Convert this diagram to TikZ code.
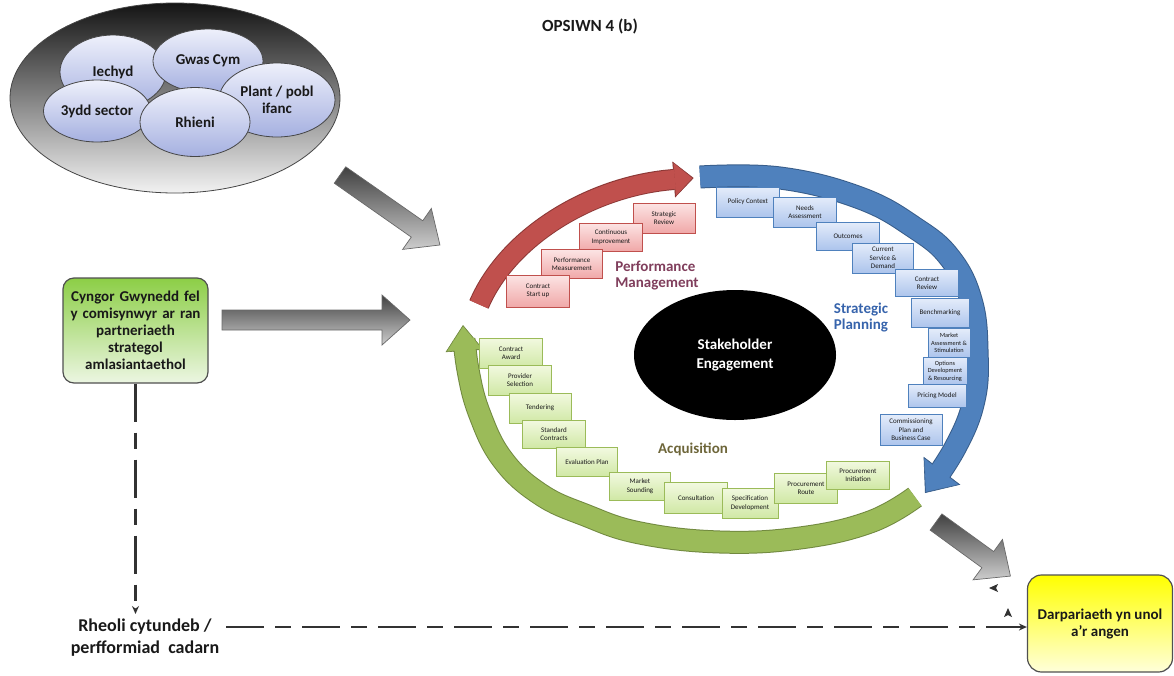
\documentclass[tikz,border=0pt]{standalone}
\usepackage{fontspec}
\setmainfont{Carlito}
\usetikzlibrary{arrows.meta,shapes.geometric}
\definecolor{txt}{RGB}{25,25,25}
\definecolor{redd}{RGB}{140,56,54}
\definecolor{redf}{RGB}{192,80,77}
\definecolor{blued}{RGB}{56,93,138}
\definecolor{bluef}{RGB}{79,129,189}
\definecolor{greend}{RGB}{113,137,63}
\definecolor{greenf}{RGB}{155,187,89}
\definecolor{rboxt}{RGB}{252,228,228}
\definecolor{rboxb}{RGB}{240,168,168}
\definecolor{bboxt}{RGB}{228,236,250}
\definecolor{bboxb}{RGB}{172,196,236}
\definecolor{gboxt}{RGB}{242,249,224}
\definecolor{gboxb}{RGB}{208,232,165}
\definecolor{ellt}{RGB}{238,240,251}
\definecolor{ellb}{RGB}{165,176,224}
\definecolor{ellline}{RGB}{70,70,70}
\definecolor{bigt}{RGB}{20,20,20}
\definecolor{bigm}{RGB}{95,95,95}
\definecolor{bigb}{RGB}{242,242,242}
\definecolor{garrt}{RGB}{65,65,65}
\definecolor{garrb}{RGB}{205,205,205}
\definecolor{garrl}{RGB}{105,105,105}
\definecolor{cygt}{RGB}{140,206,70}
\definecolor{cygb}{RGB}{236,246,226}
\definecolor{yelt}{RGB}{255,255,0}
\definecolor{yelb}{RGB}{255,255,218}
\definecolor{boxline}{RGB}{80,80,80}
\definecolor{pmcol}{RGB}{128,62,92}
\definecolor{spcol}{RGB}{55,100,172}
\definecolor{accol}{RGB}{110,102,58}
\definecolor{dashcol}{RGB}{50,50,50}
\newcommand{\garrow}[4]{%
  \begin{scope}[shift={(#1,#2)}, rotate=#3]
    \shade[top color=garrt, bottom color=garrb, draw=garrl, line width=0.7pt]
      (0,-10) -- ({#4-28},-10) -- ({#4-28},-25) -- (#4,0) -- ({#4-28},25) -- ({#4-28},10) -- (0,10) -- cycle;
  \end{scope}}
\begin{document}
\begin{tikzpicture}[x=1pt,y=-1pt,
  every node/.style={inner sep=0pt},
  smallell/.style={ellipse, draw=ellline, line width=0.8pt, top color=ellt, bottom color=ellb,
     font=\bfseries\fontsize{15}{17}\selectfont, text=txt, align=center},
  sbox/.style={draw=#1, line width=0.7pt, align=center, inner sep=1pt,
     font=\fontsize{7}{8.4}\selectfont, text=txt},
  rbox/.style={sbox=redf, top color=rboxt, bottom color=rboxb},
  bbox/.style={sbox=bluef, top color=bboxt, bottom color=bboxb},
  gbox/.style={sbox=greenf, top color=gboxt, bottom color=gboxb},
  biglbl/.style={font=\bfseries\fontsize{15}{16}\selectfont, align=left},
  dashline/.style={draw=dashcol, line width=2.2pt, dash pattern=on 38pt off 11pt on 16pt off 11pt},
  smalltip/.style={-{Stealth[length=8pt,width=7pt]}}
]
\useasboundingbox (0,0) rectangle (1174,675);
\fill[white] (0,0) rectangle (1174,675);

% title
\node[font=\bfseries\fontsize{17}{19}\selectfont, text=txt] (title) at (590,26) {OPSIWN 4 (b)};

% stakeholder group ellipse
\node[ellipse, minimum width=330pt, minimum height=190pt, draw=ellline, line width=0.8pt,
      top color=bigt, middle color=bigm, bottom color=bigb] (group) at (175,98) {};
\node[smallell, minimum width=106pt, minimum height=74pt] (iechyd) at (113,72) {\raisebox{2pt}{Iechyd}};
\node[smallell, minimum width=110pt, minimum height=64pt] (gwas) at (208,61) {Gwas Cym};
\node[smallell, minimum width=116pt, minimum height=74pt] (plant) at (277,100) {Plant / pobl\\ifanc};
\node[smallell, minimum width=107pt, minimum height=62pt] (sector) at (97,111) {3ydd sector};
\node[smallell, minimum width=110pt, minimum height=69pt] (rhieni) at (195,122) {Rhieni};

% grey block arrows
\garrow{340}{175}{-35}{122}
\garrow{222}{320}{0}{188}
\garrow{936}{522}{-36}{92}

% circular arrows
\def\redpath{(479,304.4) arc[start angle=197, end angle=264, x radius=252, y radius=180]}
\def\bluepath{plot[smooth, tension=0.7] coordinates {(700,177) (780,178) (860,198) (915,228) (950,258) (971,300) (977,350) (974,400) (955,448) (925,493)}}
\def\greenpath{plot[smooth, tension=0.7] coordinates {(915,497) (870,522) (800,538) (720,542) (640,533) (585,515) (540,494) (503,460) (480,415) (468,370) (463,325)}}
\draw[line width=21pt, draw=redd, -{Triangle[length=20pt,width=36pt,line width=0.6pt]}] \redpath;
\draw[line width=19pt, draw=redf, shorten >=1.5pt, -{Triangle[length=17.5pt,width=32.5pt,line width=0.6pt]}] \redpath;
\draw[line width=23pt, draw=blued, -{Triangle[length=28pt,width=46pt,line width=0.6pt]}] \bluepath;
\draw[line width=21pt, draw=bluef, shorten >=1.5pt, -{Triangle[length=25.5pt,width=42.5pt,line width=0.6pt]}] \bluepath;
\draw[line width=23pt, draw=greend, -{Triangle[length=26pt,width=38pt,line width=0.6pt]}] \greenpath;
\draw[line width=21pt, draw=greenf, shorten >=1.5pt, -{Triangle[length=23.5pt,width=34.5pt,line width=0.6pt]}] \greenpath;

% stakeholder engagement
\node[ellipse, fill=black, minimum width=202pt, minimum height=130pt, text=white,
      font=\bfseries\fontsize{15}{18}\selectfont, align=center] (stake) at (735,355) {Stakeholder\\Engagement};

% red boxes
\node[rbox, minimum width=62pt, minimum height=30pt] (srev) at (664,218) {Strategic\\Review};
\node[rbox, minimum width=63pt, minimum height=28pt] (cimp) at (611,237) {Continuous\\Improvement};
\node[rbox, minimum width=61pt, minimum height=29pt] (pmeas) at (572,264) {Performance\\Measurement};
\node[rbox, minimum width=63pt, minimum height=32pt] (cstart) at (538,291) {Contract\\Start up};
\node[biglbl, text=pmcol] (pmlbl) at (657,276) {Performance\\Management};

% blue boxes
\node[bbox, minimum width=63pt, minimum height=30pt] (pol) at (748,202) {Policy Context};
\node[bbox, minimum width=63pt, minimum height=30pt] (needs) at (805,212) {Needs\\Assessment};
\node[bbox, minimum width=63pt, minimum height=28pt] (outc) at (848,236) {Outcomes};
\node[bbox, minimum width=61pt, minimum height=30pt] (curr) at (883,258) {Current\\Service \&\\Demand};
\node[bbox, minimum width=63pt, minimum height=27pt] (crev) at (927,283) {Contract\\Review};
\node[bbox, minimum width=58pt, minimum height=29pt] (bench) at (940,313) {Benchmarking};
\node[bbox, minimum width=42pt, minimum height=29pt, font=\fontsize{6.3}{7.6}\selectfont] (mkt) at (949,343) {Market\\Assessment \&\\Stimulation};
\node[bbox, minimum width=44pt, minimum height=28pt, font=\fontsize{6.3}{7.6}\selectfont] (opt) at (945,371) {Options\\Development\\\& Resourcing};
\node[bbox, minimum width=58pt, minimum height=23pt] (price) at (937,396) {Pricing Model};
\node[bbox, minimum width=62pt, minimum height=31pt] (comm) at (911,430) {Commissioning\\Plan and\\Business Case};
\node[biglbl, text=spcol] (splbl) at (861,318) {Strategic\\Planning};

% green boxes
\node[gbox, minimum width=63pt, minimum height=30pt] (award) at (511,353) {Contract\\Award};
\node[gbox, minimum width=63pt, minimum height=30pt] (prov) at (520,380) {Provider\\Selection};
\node[gbox, minimum width=62pt, minimum height=30pt] (tend) at (540,408) {Tendering};
\node[gbox, minimum width=63pt, minimum height=28pt] (std) at (554,434) {Standard\\Contracts};
\node[gbox, minimum width=61pt, minimum height=29pt] (eval) at (587,462) {Evaluation Plan};
\node[gbox, minimum width=61pt, minimum height=28pt] (msound) at (640,486) {Market\\Sounding};
\node[gbox, minimum width=63pt, minimum height=31pt] (cons) at (696,498) {Consultation};
\node[gbox, minimum width=56pt, minimum height=30pt] (spec) at (750,503) {Specification\\Development};
\node[gbox, minimum width=63pt, minimum height=30pt] (proute) at (806,488) {Procurement\\Route};
\node[gbox, minimum width=63pt, minimum height=28pt] (pinit) at (858,475) {Procurement\\Initiation};
\node[biglbl, text=accol] (aclbl) at (693,449) {Acquisition};

% left green box
\node[draw=boxline, line width=1.2pt, rounded corners=11pt, top color=cygt, bottom color=cygb,
      minimum width=145pt, minimum height=105pt, text width=140pt, align=center,
      font=\bfseries\fontsize{15}{17}\selectfont, text=txt] (cyngor) at (135.5,330.5)
      {Cyngor Gwynedd fel\\y comisynwyr ar ran\\partneriaeth\\strategol\\amlasiantaethol};

% yellow box
\node[draw=boxline, line width=1.2pt, rounded corners=14pt, top color=yelt, bottom color=yelb,
      minimum width=145pt, minimum height=97pt, align=center,
      font=\bfseries\fontsize{15}{17}\selectfont, text=txt] (darp) at (1100,623.5)
      {Darpariaeth yn unol\\a'r angen};

% bottom label
\node[font=\bfseries\fontsize{18}{22}\selectfont, text=txt, align=center] (rheoli) at (145,638)
      {Rheoli cytundeb /\\perfformiad\ \ cadarn};

% dashed connectors
\coordinate (hl) at (226,627);
\draw[dashline, smalltip] (cyngor.south) -- (cyngor.south |- 0,614);
\draw[dashline, smalltip] (hl) -- (hl -| darp.west);

% small stray tips
\fill[dashcol] (989,588) -- (998,584) -- (996,588) -- (998,592) -- cycle;
\fill[dashcol] (1008,608) -- (1012,617) -- (1008,615) -- (1004,617) -- cycle;
\end{tikzpicture}
\end{document}
